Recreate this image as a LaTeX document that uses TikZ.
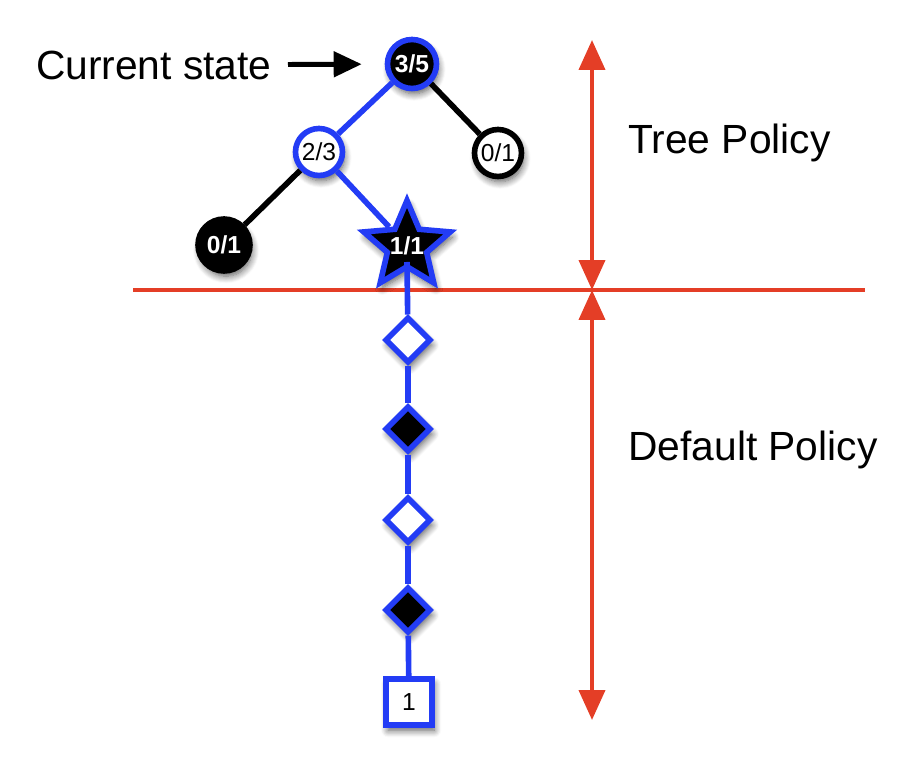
\documentclass[tikz,border=0pt]{standalone}
\usepackage{fontspec}
\setmainfont{Liberation Sans}
\usetikzlibrary{arrows.meta,shapes.geometric,shadows.blur}
\definecolor{tblue}{RGB}{35,60,245}
\definecolor{tred}{RGB}{228,62,38}

\begin{document}
\begin{tikzpicture}[x=0.02cm, y=-0.02cm,
  shd/.style={blur shadow={shadow blur steps=8, shadow blur radius=4pt,
              shadow xshift=1.2pt, shadow yshift=-3pt, shadow opacity=65}},
  snode/.style={circle, line width=3.2pt, inner sep=0pt, shd,
                font=\fontsize{14}{16}\selectfont},
  dmd/.style={diamond, aspect=1, line width=3.2pt, draw=tblue, inner sep=0pt,
              minimum size=0.92cm, shd},
  bline/.style={line width=3.2pt, draw=tblue},
  kline/.style={line width=3.2pt, draw=black},
  rarr/.style={{Triangle[length=0.6cm, width=0.52cm]}-{Triangle[length=0.6cm, width=0.52cm]},
               line width=2.3pt, draw=tred, fill=tred},
  lbl/.style={font=\fontsize{23.2}{28}\selectfont, inner sep=0pt}
]
\useasboundingbox (0,0) rectangle (907,766);

% Policy split
\coordinate (hl) at (133,290);
\coordinate (hr) at (865,290);
\coordinate (tp) at (592,40);
\coordinate (hz) at (592,290);
\coordinate (bt) at (592,720);
\draw[line width=2.3pt, tred] (hl) -- (hr);
\draw[rarr] (hz) -- (tp);
\draw[rarr] (hz) -- (bt);

% Tree nodes
\node[snode, draw=tblue, fill=black, text=white, minimum size=0.98cm,
      font=\fontsize{14}{16}\selectfont\bfseries] (root) at (412,64) {3/5};
\node[snode, draw=tblue, fill=white, minimum size=0.94cm] (mid) at (319,152) {2/3};
\node[snode, draw=black, fill=white, minimum size=0.94cm] (rt) at (498,153) {0/1};
\node[snode, draw=black, fill=black, text=white, minimum size=1.04cm,
      font=\fontsize{14}{16}\selectfont\bfseries] (lf) at (224,245) {0/1};
\node[star, star points=5, star point ratio=2.2, draw=tblue, fill=black,
      line width=3.2pt, inner sep=0pt, minimum size=1.82cm, shd,
      label={[text=white, inner sep=0pt, font=\fontsize{14}{16}\selectfont\bfseries]center:1/1}]
      (leaf) at (407,246) {};

% Rollout
\node[dmd, fill=white] (d1) at (408,340) {};
\node[dmd, fill=black] (d2) at (408,429) {};
\node[dmd, fill=white] (d3) at (408,520) {};
\node[dmd, fill=black] (d4) at (408,610) {};
\node[rectangle, draw=tblue, fill=white, line width=3.2pt, minimum size=0.92cm,
      inner sep=0pt, shd, font=\fontsize{14}{16}\selectfont] (term) at (409,702) {1};

% Edges
\draw[bline] (root) -- (mid);
\draw[kline] (root) -- (rt);
\draw[kline] (mid) -- (lf);
\draw[bline] (mid) -- (leaf);
\draw[bline] ([yshift=-0.32cm]leaf.center) -- (d1);
\draw[bline] (d1) -- (d2);
\draw[bline] (d2) -- (d3);
\draw[bline] (d3) -- (d4);
\draw[bline] (d4) -- (term);

% Labels
\node[lbl, anchor=east] (cur) at (272,65) {Current state};
\draw[line width=2.8pt, -{Triangle[length=0.56cm, width=0.5cm]},
      shorten <=0.32cm, shorten >=0.46cm] (cur) -- (root);
\node[lbl, anchor=west] (tree) at (628,143) {Tree Policy};
\node[lbl, anchor=west] (dflt) at (628,450) {Default Policy};
\end{tikzpicture}
\end{document}
